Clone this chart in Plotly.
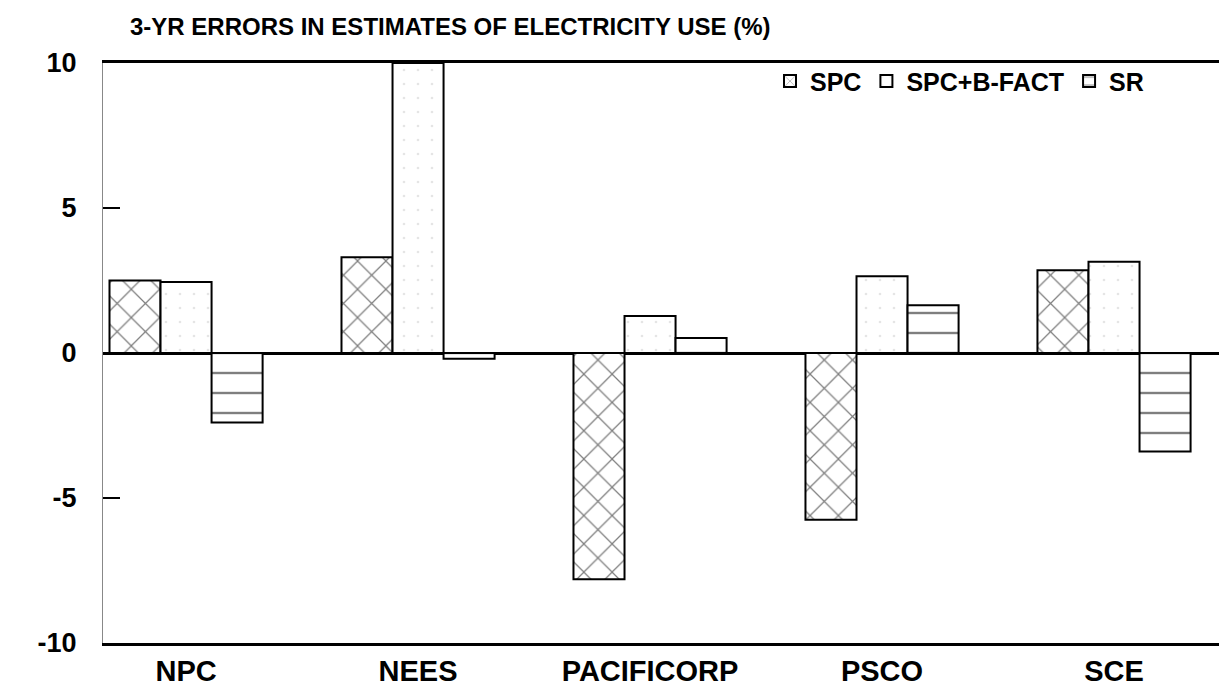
import plotly.graph_objects as go

categories = ["NPC", "NEES", "PACIFICORP", "PSCO", "SCE"]
spc = [2.5, 3.3, -7.8, -5.75, 2.85]
spc_bfact = [2.45, 10.0, 1.28, 2.65, 3.15]
sr = [-2.4, -0.2, 0.52, 1.65, -3.4]
y_ticks = [-10, -5, 0, 5, 10]
y_tick_labels = ["-10", "-5", "0", "5", "10"]
title_text = "3-YR ERRORS IN ESTIMATES OF ELECTRICITY USE (%)"

FONT = "Liberation Sans, Arial, Helvetica, sans-serif"

# page body has an 8px default margin; figure is sized/offset to compensate
W, H = 1219, 682
L, T, B = 95, 55, 47
PW = W - L

fig = go.Figure()
fig.add_trace(go.Bar(
    name="SPC", x=categories, y=spc,
    marker=dict(color="white", line=dict(color="black", width=2),
                pattern=dict(shape="x", size=20, solidity=0.12, fgcolor="black", bgcolor="white")),
))
fig.add_trace(go.Bar(
    name="SPC+B-FACT", x=categories, y=spc_bfact,
    marker=dict(color="white", line=dict(color="black", width=2),
                pattern=dict(shape=".", size=14, solidity=0.03, fgcolor="#cccccc", bgcolor="white")),
))
fig.add_trace(go.Bar(
    name="SR", x=categories, y=sr,
    marker=dict(color="white", line=dict(color="black", width=2),
                pattern=dict(shape="-", size=20, solidity=0.12, fgcolor="black", bgcolor="white")),
))

fig.update_layout(
    width=W, height=H,
    margin=dict(l=L, r=0, t=T, b=B),
    paper_bgcolor="white", plot_bgcolor="white",
    barmode="group", bargap=0.34, bargroupgap=0,
    font=dict(family=FONT, size=22, color="black", weight="bold"),
    title=dict(text=title_text, x=122 / W, xref="container", xanchor="left",
               y=1 - 19 / H, yref="container", yanchor="middle",
               font=dict(family=FONT, size=24, color="black", weight="bold")),
    showlegend=True,
    legend=dict(orientation="h", x=(762 - L) / PW, xanchor="left",
                y=1.008, yanchor="top", bgcolor="rgba(0,0,0,0)",
                font=dict(family=FONT, size=25, color="black", weight="bold"),
                traceorder="normal", itemwidth=30),
    xaxis=dict(range=[-0.358, 4.487], showline=True, mirror=True, linecolor="black",
               linewidth=3, ticks="", showgrid=False, zeroline=False,
               tickfont=dict(family=FONT, size=29, color="black", weight="bold")),
    yaxis=dict(range=[-10, 10], tickvals=y_ticks, ticktext=y_tick_labels,
               showline=True, linecolor="#888888",
               linewidth=1, ticks="inside", ticklen=17, tickwidth=1.5, tickcolor="black",
               showgrid=False, zeroline=True, zerolinecolor="black", zerolinewidth=3,
               ticklabelstandoff=20,
               tickfont=dict(family=FONT, size=27, color="black", weight="bold")),
)

fig.write_html("out.html")
